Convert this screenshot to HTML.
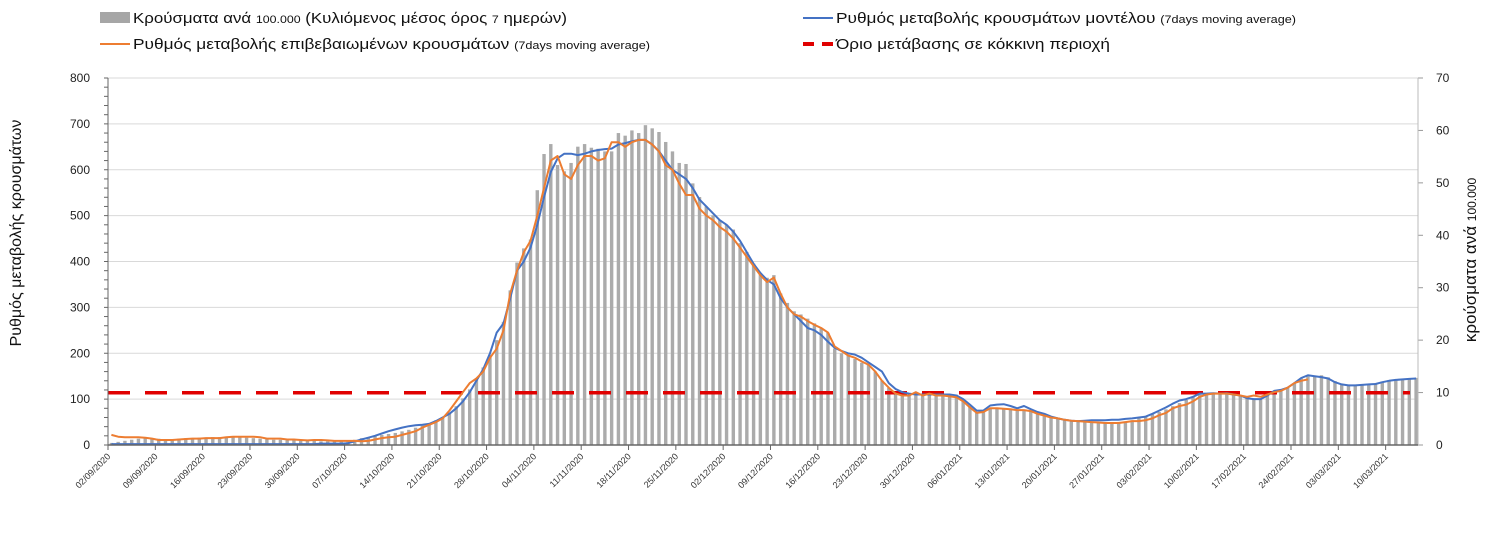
<!DOCTYPE html>
<html><head><meta charset="utf-8"><style>
html,body{margin:0;padding:0;background:#fff;}
svg{display:block;font-family:"Liberation Sans",sans-serif;}
</style></head><body>
<svg id="chart" width="1502" height="533" viewBox="0 0 1502 533" xmlns="http://www.w3.org/2000/svg">
<g>
 <g>
  <rect x="100" y="12" width="30" height="11" fill="#a6a6a6"/>
  <text x="133" y="23" font-size="15" fill="#111" textLength="434" lengthAdjust="spacingAndGlyphs">Κρούσματα ανά <tspan font-size="11">100.000</tspan> (Κυλιόμενος μέσος όρος <tspan font-size="11">7</tspan> ημερών)</text>
 </g>
 <g>
  <line x1="100" y1="44" x2="130" y2="44" stroke="#ed7d31" stroke-width="2"/>
  <text x="133" y="49" font-size="15" fill="#111" textLength="517" lengthAdjust="spacingAndGlyphs">Ρυθμός μεταβολής επιβεβαιωμένων κρουσμάτων <tspan font-size="11">(7days moving average)</tspan></text>
 </g>
 <g>
  <line x1="803" y1="18" x2="833" y2="18" stroke="#4472c4" stroke-width="2"/>
  <text x="836" y="23" font-size="15" fill="#111" textLength="460" lengthAdjust="spacingAndGlyphs">Ρυθμός μεταβολής κρουσμάτων μοντέλου <tspan font-size="11">(7days moving average)</tspan></text>
 </g>
 <g>
  <line x1="803" y1="44" x2="834" y2="44" stroke="#e00000" stroke-width="4" stroke-dasharray="11,8"/>
  <text x="836" y="49" font-size="15" fill="#111" textLength="274" lengthAdjust="spacingAndGlyphs">Όριο μετάβασης σε κόκκινη περιοχή</text>
 </g>
</g>
<text transform="translate(21,233) rotate(-90)" text-anchor="middle" font-size="16" fill="#111">Ρυθμός μεταβολής κρουσμάτων</text>
<text transform="translate(1476,260) rotate(-90)" text-anchor="middle" font-size="17" fill="#111">κρούσματα ανά <tspan font-size="12">100.000</tspan></text>
<g id="grid"></g><g id="bars"></g><g id="lines"></g><g id="axes"></g>
</svg>
<script>
const tickLabels=["02/09/2020","09/09/2020","16/09/2020","23/09/2020","30/09/2020","07/10/2020","14/10/2020","21/10/2020","28/10/2020","04/11/2020","11/11/2020","18/11/2020","25/11/2020","02/12/2020","09/12/2020","16/12/2020","23/12/2020","30/12/2020","06/01/2021","13/01/2021","20/01/2021","27/01/2021","03/02/2021","10/02/2021","17/02/2021","24/02/2021","03/03/2021","10/03/2021"];
const leftTicks=[0,100,200,300,400,500,600,700,800];
const rightTicks=[0,10,20,30,40,50,60,70];
const threshold=[114];
const casesPer100k=[0.4,0.6,0.8,1.0,1.2,1.3,1.3,1.2,1.1,1.1,1.2,1.3,1.3,1.4,1.4,1.5,1.5,1.6,1.6,1.5,1.4,1.3,1.2,1.1,1.0,1.0,0.9,0.9,0.8,0.8,0.8,0.7,0.7,0.7,0.7,0.8,1.0,1.3,1.5,1.7,1.9,2.1,2.3,2.6,2.9,3.3,3.7,4.1,4.7,5.3,6.2,7.4,8.9,10.6,12.4,14.8,17.2,20.0,23.5,29.5,34.8,37.5,39.2,48.6,55.5,57.4,53.4,52.2,53.8,56.9,57.4,56.7,56.5,56,56,59.5,59,60,59.5,61,60.4,59.7,57.8,56,53.8,53.6,49.9,47.3,45.5,43.8,42.9,42,41.1,38.5,36.8,34.6,32.8,31.9,32.4,28.9,27.1,25.5,24.9,24.1,23.2,22.3,21.4,18.4,17.5,17.1,16.4,15.7,15.3,14,12.3,10.9,10.3,9.8,9.8,10.1,9.8,10.1,9.8,9.6,9.6,9.6,8.7,7.4,6.1,6.3,7,7,6.8,6.8,6.6,6.6,6.4,5.9,5.5,5.2,5,4.7,4.5,4.4,4.4,4.3,4.2,4.2,4.3,4.4,4.5,4.7,5.1,5.4,5.9,6.3,6.8,7.4,8,8.6,9.2,9.6,9.8,9.9,10,9.9,9.8,9.4,9,8.7,8.7,9.4,10.1,10.5,10.9,11.8,12.7,13.1,13.1,13.3,12.9,12.2,11.5,11.4,11.4,11.5,11.5,11.8,12.1,12.4,12.5,12.6,12.7,12.8];
const modelRate=[2,2,2,2,2,2,2,2,2,2,2,2,2,2,2,2,2,2,2,2,2,2,2,2,2,2,2,2,2,2,2,3,3,3,3,4,8,12,16,20,25,30,34,38,41,43,44,46,52,60,68,80,95,115,140,165,200,245,265,320,380,400,430,480,540,595,625,635,635,632,635,640,643,645,646,655,658,662,665,665,655,640,620,600,590,580,560,535,520,505,490,480,465,445,420,395,375,360,350,320,300,285,270,255,250,240,225,212,205,200,197,190,180,170,160,135,122,115,112,110,110,110,110,110,110,108,100,88,75,75,86,88,89,85,80,85,78,72,68,62,58,55,53,52,53,54,54,54,55,55,57,58,60,62,68,75,82,90,97,100,105,112,112,113,112,113,110,108,102,100,100,108,118,120,125,135,146,152,150,148,145,137,132,130,130,131,132,133,137,140,142,143,144,145];
const confirmedRate=[22,18,17,17,17,16,14,11,11,11,12,13,14,14,15,15,15,17,18,18,18,18,17,14,14,14,12,12,11,10,11,11,10,9,9,9,9,8,9,12,15,17,18,22,26,30,38,44,50,58,75,95,115,135,145,160,190,210,250,330,380,420,445,500,560,620,630,590,580,610,630,630,620,625,660,660,650,660,665,665,655,640,610,600,570,545,545,515,500,490,475,465,450,430,410,390,370,355,365,330,300,285,280,270,262,255,245,215,205,195,190,182,175,160,140,125,112,108,108,115,108,112,108,108,106,104,95,82,70,72,80,80,79,78,76,76,74,68,64,60,58,55,53,52,51,50,49,48,48,48,50,52,52,54,58,65,70,80,85,88,95,105,110,112,112,112,110,108,105,108,105,110,115,118,125,135,140,143];

const NS="http://www.w3.org/2000/svg";
const X0=108,X1=1418,Y0=445,Y1=78,DAY=6.76;
const xDay=d=>X0+d*DAY+3.4;
const xTick=i=>X0+i*7*DAY;
const yL=v=>Y0-(v/800)*(Y0-Y1);
const yR=v=>Y0-(v/70)*(Y0-Y1);
function mk(tag,attrs,parent){const e=document.createElementNS(NS,tag);for(const k in attrs)e.setAttribute(k,attrs[k]);parent.appendChild(e);return e;}
const grid=document.getElementById('grid'),bars=document.getElementById('bars'),lines=document.getElementById('lines'),axes=document.getElementById('axes');

leftTicks.forEach(v=>{
 if(v>0){const g=mk('line',{x1:X0,x2:X1,y1:yL(v),y2:yL(v),stroke:'#d9d9d9','stroke-width':1},grid);
 
 }
 const t=mk('text',{x:90,y:yL(v)+4,'text-anchor':'end','font-size':12,fill:'#222'},axes);t.textContent=v;
 
 
});
for(let v=0;v<=800;v+=20){mk('line',{x1:X0-4,x2:X0,y1:yL(v),y2:yL(v),stroke:'#666','stroke-width':1},axes);}
rightTicks.forEach(v=>{
 mk('line',{x1:X1,x2:X1+5,y1:yR(v),y2:yR(v),stroke:'#999','stroke-width':1},axes);
 const t=mk('text',{x:1436,y:yR(v)+4,'font-size':12,fill:'#222'},axes);t.textContent=v;
 
 
});
mk('line',{x1:X0,x2:X0,y1:Y1,y2:Y0,stroke:'#666','stroke-width':1},axes);
mk('line',{x1:X1,x2:X1,y1:Y1,y2:Y0,stroke:'#bbb','stroke-width':1},axes);
mk('line',{x1:X0,x2:X1,y1:Y0,y2:Y0,stroke:'#666','stroke-width':1.5},axes);

casesPer100k.forEach((v,d)=>{
 const b=mk('rect',{x:xDay(d)-1.7,y:yR(v),width:3.4,height:Y0-yR(v),fill:'#ababab'},bars);
 
 
});
const th=mk('line',{x1:X0,x2:1410,y1:yL(threshold[0]),y2:yL(threshold[0]),stroke:'#e00000','stroke-width':3.5,'stroke-dasharray':'22,15'},lines);


function path(arr,color,name){
 const p=mk('path',{d:arr.map((v,d)=>(d?'L':'M')+xDay(d).toFixed(1)+','+yL(v).toFixed(1)).join(''),fill:'none',stroke:color,'stroke-width':2,'stroke-linejoin':'round'},lines);
 
 
}
path(modelRate,'#4472c4','model-rate-line');
path(confirmedRate,'#ed7d31','confirmed-rate-line');

tickLabels.forEach((s,i)=>{
 const x=xTick(i);
 mk('line',{x1:x,x2:x,y1:Y0,y2:Y0+5,stroke:'#666','stroke-width':1},axes);
 const t=mk('text',{transform:`translate(${x+3},${Y0+12}) rotate(-45)`,'text-anchor':'end','font-size':9,fill:'#333'},axes);
 t.textContent=s;
 
 
});
</script>
</body></html>
